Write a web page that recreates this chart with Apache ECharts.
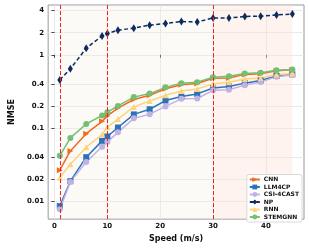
<!DOCTYPE html>
<html><head><meta charset="utf-8">
<script src="https://cdn.jsdelivr.net/npm/echarts@6/dist/echarts.min.js"></script>
<style>html,body{margin:0;padding:0;background:#fff}#c{width:309px;height:248px}</style>
</head><body><div id="c"></div>
<script>
const speeds = [1,3,6,9,10,12,15,18,21,24,27,30,33,36,39,42,45];
const CNN = [0.0267,0.0489,0.084,0.124,0.147,0.188,0.246,0.281,0.345,0.390,0.407,0.479,0.483,0.541,0.553,0.606,0.625];
const LLM4CP = [0.00865,0.0189,0.0402,0.0671,0.077,0.102,0.154,0.181,0.238,0.270,0.293,0.352,0.371,0.411,0.446,0.514,0.541];
const CSI4CAST = [0.00782,0.0185,0.0345,0.0558,0.065,0.0877,0.136,0.155,0.198,0.251,0.254,0.328,0.334,0.386,0.427,0.504,0.530];
const NP = [0.455,0.644,1.23,1.81,1.95,2.17,2.31,2.54,2.67,2.84,2.81,3.18,3.18,3.34,3.37,3.49,3.6];
const RNN = [0.0212,0.0321,0.055,0.0819,0.103,0.133,0.195,0.234,0.281,0.321,0.341,0.402,0.424,0.469,0.483,0.541,0.558];
const STEMGNN = [0.0420,0.0736,0.114,0.149,0.165,0.201,0.265,0.296,0.360,0.411,0.424,0.494,0.509,0.555,0.570,0.618,0.631];
const yTicks = [0.01,0.02,0.04,0.1,0.2,0.4,1,2,4];
const xTicks = [0,10,20,30,40];
const vLines = [1,10,30];

const FONT = 'DejaVu Sans';
const L = v => Math.log10(v);
const toData = arr => speeds.map((s,i)=>[s, L(arr[i])]);
const yLog = yTicks.map(L);
function fmtY(v){
  for (const t of yTicks){ if (Math.abs(L(t)-v) < 1e-6) return String(t); }
  return '';
}
function mk(name, arr, color, symbol, size, extra){
  return Object.assign({
    name, type:'line', data: toData(arr), symbol, symbolSize: size,
    lineStyle:{color, width:1.5}, itemStyle:{color},
    emphasis:{disabled:true}, animation:false
  }, extra||{});
}
const chart = echarts.init(document.getElementById('c'), null, {renderer:'canvas'});
chart.setOption({
  animation:false,
  textStyle:{fontFamily:FONT},
  grid:{left:34, right:5, top:5, bottom:24, show:true, borderColor:'#999', borderWidth:1, backgroundColor:'transparent'},
  xAxis:{type:'value', min:-1.2, max:47.2,
    name:'Speed (m/s)', nameLocation:'middle', nameGap:12,
    nameTextStyle:{fontFamily:FONT, fontWeight:'bold', fontSize:8, color:'#111'},
    axisLine:{show:false},
    axisTick:{show:true, length:3, lineStyle:{color:'#444'}, customValues:xTicks},
    axisLabel:{fontFamily:FONT, fontWeight:'bold', fontSize:7, color:'#111', margin:4, customValues:xTicks},
    splitLine:{show:true, lineStyle:{color:'#e4e4e4', width:0.8}}},
  yAxis:{type:'value', min:L(0.00575), max:L(4.78),
    name:'NMSE', nameLocation:'middle', nameGap:24, nameRotate:90,
    nameTextStyle:{fontFamily:FONT, fontWeight:'bold', fontSize:8, color:'#111'},
    axisLine:{show:false},
    axisTick:{show:true, length:3, lineStyle:{color:'#444'}, customValues:yLog},
    axisLabel:{fontFamily:FONT, fontWeight:'bold', fontSize:7, color:'#111', margin:4, customValues:yLog, formatter:fmtY},
    splitLine:{show:true, lineStyle:{color:'#e4e4e4', width:0.8}}},
  legend:{orient:'vertical', right:7, bottom:26, itemWidth:10, itemHeight:6, itemGap:1.5,
    padding:[2,3,2,2], backgroundColor:'#fff', borderColor:'#d0d0d0', borderWidth:0.8, borderRadius:2,
    textStyle:{fontFamily:FONT, fontWeight:'bold', fontSize:6, color:'#111', padding:[0,0,0,-1]},
    data:['CNN','LLM4CP','CSI-4CAST','NP','RNN','STEMGNN']},
  series:[
    mk('CNN', CNN, '#f26b1d', 'triangle', 6, {symbolRotate:-90,
      markArea:{silent:true, itemStyle:{color:'rgba(245,235,225,0.25)'}, data:[[{xAxis:1},{xAxis:30}]]},
      markLine:{silent:true, symbol:'none', label:{show:false}, lineStyle:{color:'#f21d1d', type:[4,2], width:1}, data:vLines.map(v=>({xAxis:v}))}
    }),
    mk('LLM4CP', LLM4CP, '#2d72b8', 'rect', 6, {
      markArea:{silent:true, itemStyle:{color:'rgba(253,225,215,0.4)'}, data:[[{xAxis:30},{xAxis:45}]]}
    }),
    mk('CSI-4CAST', CSI4CAST, '#c2b2e4', 'circle', 6),
    mk('NP', NP, '#0c2b5e', 'diamond', [5,8], {lineStyle:{color:'#0c2b5e', width:1.5, type:[4,2.5]}}),
    mk('RNN', RNN, '#fdd47e', 'triangle', 6),
    mk('STEMGNN', STEMGNN, '#72c073', 'circle', 6)
  ]
});
</script></body></html>
